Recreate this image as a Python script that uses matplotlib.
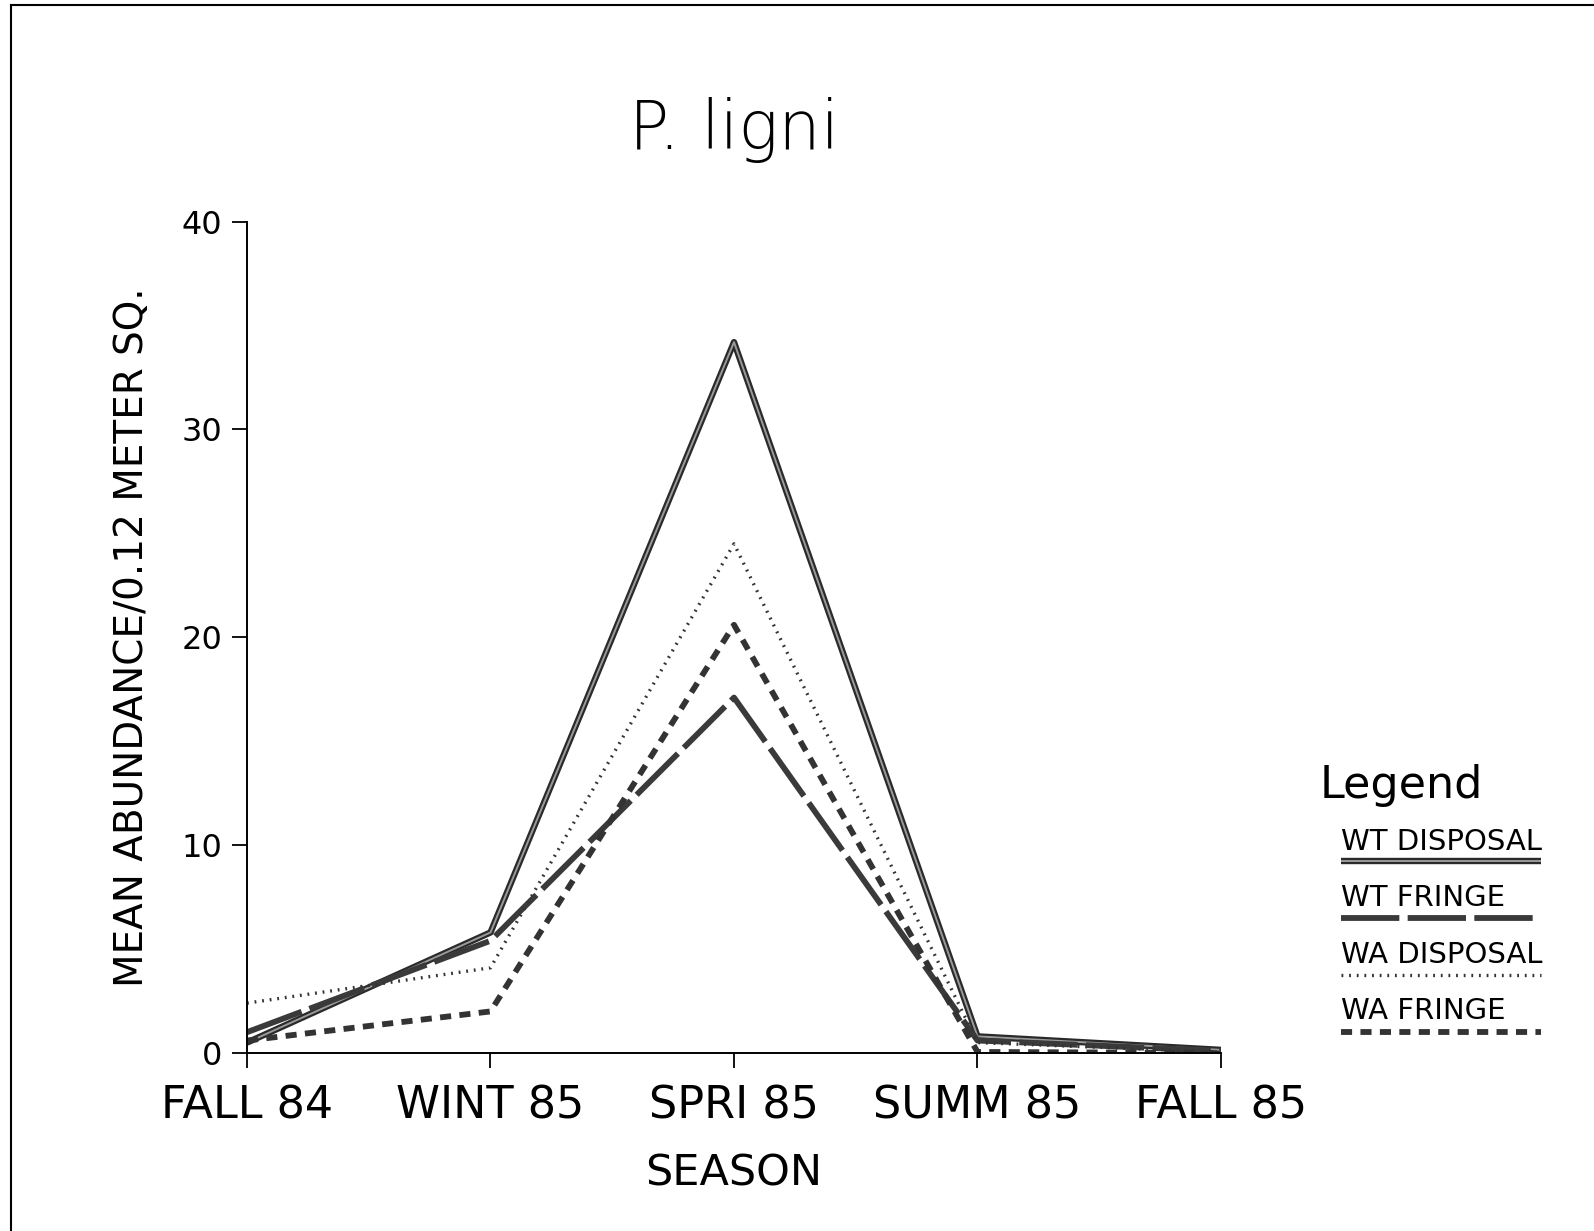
import matplotlib
matplotlib.use("Agg")
import matplotlib.pyplot as plt
from matplotlib.lines import Line2D
import matplotlib.patheffects as pe

plt.rcParams['lines.scale_dashes'] = False

seasons = ["FALL 84", "WINT 85", "SPRI 85", "SUMM 85", "FALL 85"]
wt_disposal = [0.5, 5.8, 34.2, 0.8, 0.15]
wt_fringe = [1.0, 5.4, 17.1, 0.6, 0.1]
wa_disposal = [2.4, 4.1, 24.5, 0.5, 0.05]
wa_fringe = [0.6, 2.0, 20.6, 0.05, 0.0]
series_names = ["WT DISPOSAL", "WT FRINGE", "WA DISPOSAL", "WA FRINGE"]
yticks = [0, 10, 20, 30, 40]

W, H = 1594, 1231
fig = plt.figure(figsize=(W / 100, H / 100), dpi=100)
ax = fig.add_axes([247 / W, 1 - 1053 / H, (1221 - 247) / W, (1053 - 221.6) / H])

styles = [
    dict(color="#3a3a3a", lw=4.2, ls="-"),
    dict(color="#3a3a3a", lw=4.2, dashes=(42, 6)),
    dict(color="#333333", lw=2.4, dashes=(1.3, 4.2)),
    dict(color="#333333", lw=4.2, dashes=(8, 6)),
]
double_fx = [pe.Stroke(linewidth=4.6, foreground="#2a2a2a"),
             pe.Stroke(linewidth=1.4, foreground="#9a9a9a")]

x = list(range(len(seasons)))
data = [wt_disposal, wt_fringe, wa_disposal, wa_fringe]
for vals, st in zip(data, styles):
    line, = ax.plot(x, vals, solid_capstyle="butt", dash_capstyle="butt", **st)
    if st.get("ls") == "-":
        line.set_path_effects(double_fx)

ax.set_xlim(0, 4)
ax.set_ylim(0, 40)
ax.set_xticks(x)
ax.set_xticklabels(seasons, fontsize=32)
ax.set_yticks(yticks)
ax.set_yticklabels([str(v) for v in yticks], fontsize=23)
ax.tick_params(axis="y", length=11, width=1.3, pad=7, direction="out")
ax.tick_params(axis="x", length=11, width=1.3, pad=12, direction="out")
for s in ["top", "right"]:
    ax.spines[s].set_visible(False)
for s in ["left", "bottom"]:
    ax.spines[s].set_linewidth(1.4)
ax.set_xlabel("SEASON", fontsize=31, labelpad=18)
ax.set_ylabel("MEAN ABUNDANCE/0.12 METER SQ.", fontsize=28, labelpad=22)
ax.set_title("P. ligni", fontsize=48, pad=52, fontweight="light")

# legend drawn by hand (text above sample line)
fig.text(1320 / W, 1 - 798 / H, "Legend", fontsize=32, ha="left", va="baseline")
entry_text_y = [842, 898, 955, 1011]
entry_line_y = [861, 918, 975, 1032]
lx0, lx1 = 1341 / W, 1541 / W
for name, st, ty, ly in zip(series_names, styles, entry_text_y, entry_line_y):
    fig.text(lx0, 1 - ty / H, name, fontsize=21, ha="left", va="center")
    ln = Line2D([lx0, lx1], [1 - ly / H, 1 - ly / H], transform=fig.transFigure,
                solid_capstyle="butt", dash_capstyle="butt", **st)
    if st.get("ls") == "-":
        ln.set_path_effects(double_fx)
    fig.add_artist(ln)

# page frame
fig.add_artist(Line2D([11 / W, 11 / W], [0, 1 - 5 / H], transform=fig.transFigure,
                      color="black", lw=1.5))
fig.add_artist(Line2D([11 / W, 1], [1 - 5 / H, 1 - 5 / H], transform=fig.transFigure,
                      color="black", lw=1.5))

fig.savefig("out.png", dpi=100)
